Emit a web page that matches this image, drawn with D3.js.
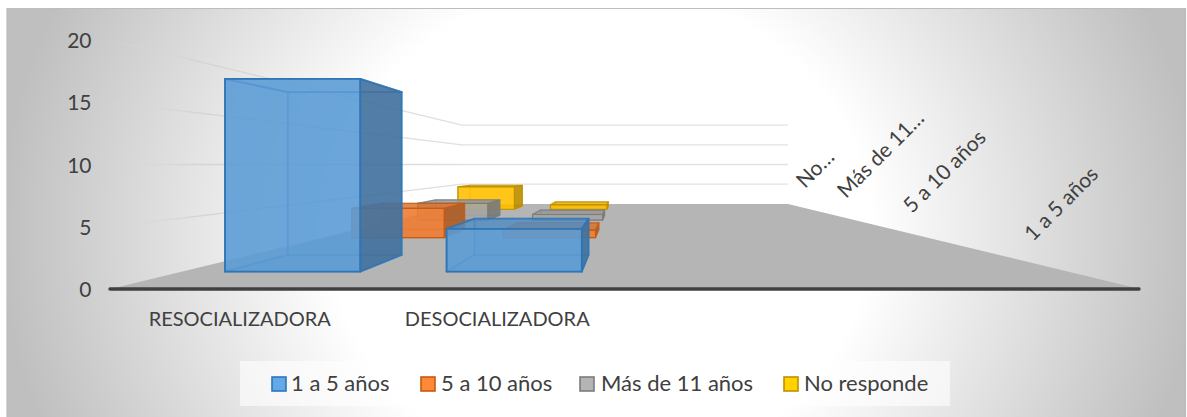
<!DOCTYPE html>
<html><head><meta charset="utf-8">
<script src="https://cdn.jsdelivr.net/npm/d3@7"></script>
<style>html,body{margin:0;padding:0;background:#fff;overflow:hidden}svg{display:block}text{font-family:Lato,"Open Sans",sans-serif;fill:#404040}</style>
</head><body><svg id="c" width="1187" height="417"></svg>
<script>
const categories = ["RESOCIALIZADORA","DESOCIALIZADORA","",""];
const seriesNames = ["1 a 5 años","5 a 10 años","Más de 11 años","No responde"];
const depthLabels = ["1 a 5 años","5 a 10 años","Más de 11…","No…"];
const serie1 = [18,4,0,0];
const serie2 = [4,1,0,0];
const serie3 = [3,1,0,0];
const serie4 = [5,1,0,0];
const allSeries = [serie1,serie2,serie3,serie4];
const fills = ["#5B9BD5","#ED7D31","#A5A5A5","#FFC000"];
const edges = ["#2E75B6","#C55A11","#7C7C7C","#BF9000"];
const yTicks = [0,5,10,15,20];

const svg = d3.select("#c");
const defs = svg.append("defs");
const rg = defs.append("radialGradient").attr("id","bg").attr("gradientUnits","userSpaceOnUse")
  .attr("cx",600).attr("cy",230).attr("r",600).attr("gradientTransform","translate(600 230) scale(1 0.9) translate(-600 -230)");
[[0,"#ffffff"],[0.45,"#ffffff"],[1,"#bfbfbf"]].forEach(s=>rg.append("stop").attr("offset",s[0]).attr("stop-color",s[1]));
svg.append("rect").attr("x",7).attr("y",9).attr("width",1178).attr("height",408).attr("fill","url(#bg)");
svg.append("path").attr("d","M7,417V8.5H1185.5V417").attr("fill","none").attr("stroke","#bdbdbd").attr("stroke-width",1.2);

// scales in the front plane
const xs = d3.scaleBand().domain(d3.range(categories.length)).range([110,1140]).paddingInner(0.39).paddingOuter(0.195);
const ys = d3.scaleLinear().domain([0,20]).range([289,40]);
const zs = d3.scaleBand().domain(d3.range(seriesNames.length)).range([0,1]).paddingInner(0.6).paddingOuter(0.3);
const persp = d3.scaleLinear().domain([0,1]).range([1,3.16]); // divisor along depth
const cx = 625, cy = ys(10);
const P = (X,Y,z)=>{const s=1/persp(z);return [cx+(X-cx)*s, cy+(Y-cy)*s];};
const line = d3.line();
const poly = pts => line(pts)+"Z";

// walls gridlines
const g = svg.append("g");
yTicks.slice(1).forEach(v=>{
  const a=P(110,ys(v),0),b=P(110,ys(v),1),c=P(1140,ys(v),1);
  const grad=defs.append("linearGradient").attr("id","gl"+v).attr("gradientUnits","userSpaceOnUse")
    .attr("x1",a[0]).attr("y1",a[1]+0.01).attr("x2",b[0]).attr("y2",b[1]);
  grad.append("stop").attr("offset",0).attr("stop-color","#d9d9d9").attr("stop-opacity",0.1);
  grad.append("stop").attr("offset",0.25).attr("stop-color","#d4d4d4");
  grad.append("stop").attr("offset",1).attr("stop-color","#e0e0e0");
  g.append("path").attr("d",line([a,b])).attr("fill","none").attr("stroke","url(#gl"+v+")").attr("stroke-width",1.3);
  g.append("path").attr("d",line([b,c])).attr("fill","none").attr("stroke","#e2e2e2").attr("stroke-width",1.3);
});
// floor
g.append("path").attr("d",poly([P(110,ys(0),0),P(1140,ys(0),0),P(1140,ys(0),1),P(110,ys(0),1)])).attr("fill","#b5b5b5");

// bars, back to front
const barData=[];
d3.range(seriesNames.length).reverse().forEach(si=>{
  categories.forEach((c,ci)=>{ if(allSeries[si][ci]>0) barData.push({si,ci,v:allSeries[si][ci]}); });
});
const bars=svg.append("g").selectAll("g").data(barData).join("g");
bars.each(function(d){
  const x0=xs(d.ci),x1=x0+xs.bandwidth(),y0=ys(0),y1=ys(d.v),z0=zs(d.si),z1=z0+zs.bandwidth();
  const sel=d3.select(this), f=fills[d.si], e=edges[d.si];
  const face=(pts,col,op,sw)=>sel.append("path").attr("d",poly(pts)).attr("fill",col)
    .attr("fill-opacity",op).attr("stroke",e).attr("stroke-opacity",sw).attr("stroke-width",d.si===0?1.8:1.2).attr("stroke-linejoin","round");
  const dark=d3.color(f).darker(0.9).formatHex();
  face([P(x0,y0,z1),P(x1,y0,z1),P(x1,y1,z1),P(x0,y1,z1)],f,0.35,0.4); // back
  face([P(x0,y0,z0),P(x1,y0,z0),P(x1,y0,z1),P(x0,y0,z1)],f,0.35,0.45); // bottom
  face([P(x0,y0,z0),P(x0,y1,z0),P(x0,y1,z1),P(x0,y0,z1)],f,0.25,0.45); // left
  face([P(x0,y1,z0),P(x1,y1,z0),P(x1,y1,z1),P(x0,y1,z1)],d3.color(f).darker(d.v>10?0:0.3).formatHex(),d.v>10?0.25:0.75,0.8); // top
  face([P(x1,y0,z0),P(x1,y1,z0),P(x1,y1,z1),P(x1,y0,z1)],dark,0.88,0.8); // right
  face([P(x0,y0,z0),P(x1,y0,z0),P(x1,y1,z0),P(x0,y1,z0)],f,0.85,1); // front
});

// baseline
svg.append("line").attr("x1",110).attr("x2",1139).attr("y1",289).attr("y2",289).attr("stroke","#404040").attr("stroke-width",3.4).attr("stroke-linecap","round");

// y axis
const ya=d3.axisLeft(ys).tickValues(yTicks).tickSize(0).tickPadding(0);
const yg=svg.append("g").attr("transform","translate(91.5,1)").call(ya);
yg.select(".domain").remove();
yg.selectAll("text").style("font-size","21px").attr("fill","#404040");
// category labels
const xa=d3.axisBottom(d3.scaleBand().domain(categories.slice(0,2)).range([111,111+2*(1030/4)])).tickSize(0);
const xg=svg.append("g").attr("transform","translate(0,311)").call(xa);
xg.select(".domain").remove();
xg.selectAll("text").style("font-size","20px").attr("dy","0.62em").attr("fill","#404040");

// depth labels
const labelAt=[[1033,242],[912,214],[846,199],[805,189]];
svg.append("g").selectAll("text").data(depthLabels).join("text")
  .attr("transform",(d,i)=>`translate(${labelAt[i][0]},${labelAt[i][1]}) rotate(-45)`)
  .style("font-size","21px").text(d=>d);

// legend
svg.append("rect").attr("x",240).attr("y",361).attr("width",710).attr("height",45).attr("fill","#fff").attr("fill-opacity",0.6);
const legX=[272,421,580,784], txtX=[291,441,601,804];
const lg=svg.append("g").selectAll("g").data(seriesNames).join("g");
lg.append("rect").attr("x",(d,i)=>legX[i]).attr("y",377).attr("width",14).attr("height",14)
  .attr("fill",(d,i)=>d3.color(fills[i]).brighter(0.25)).attr("stroke",(d,i)=>edges[i]).attr("stroke-width",1.6);
lg.append("text").attr("x",(d,i)=>txtX[i]).attr("y",391).style("font-size","22px").text(d=>d);
</script></body></html>
